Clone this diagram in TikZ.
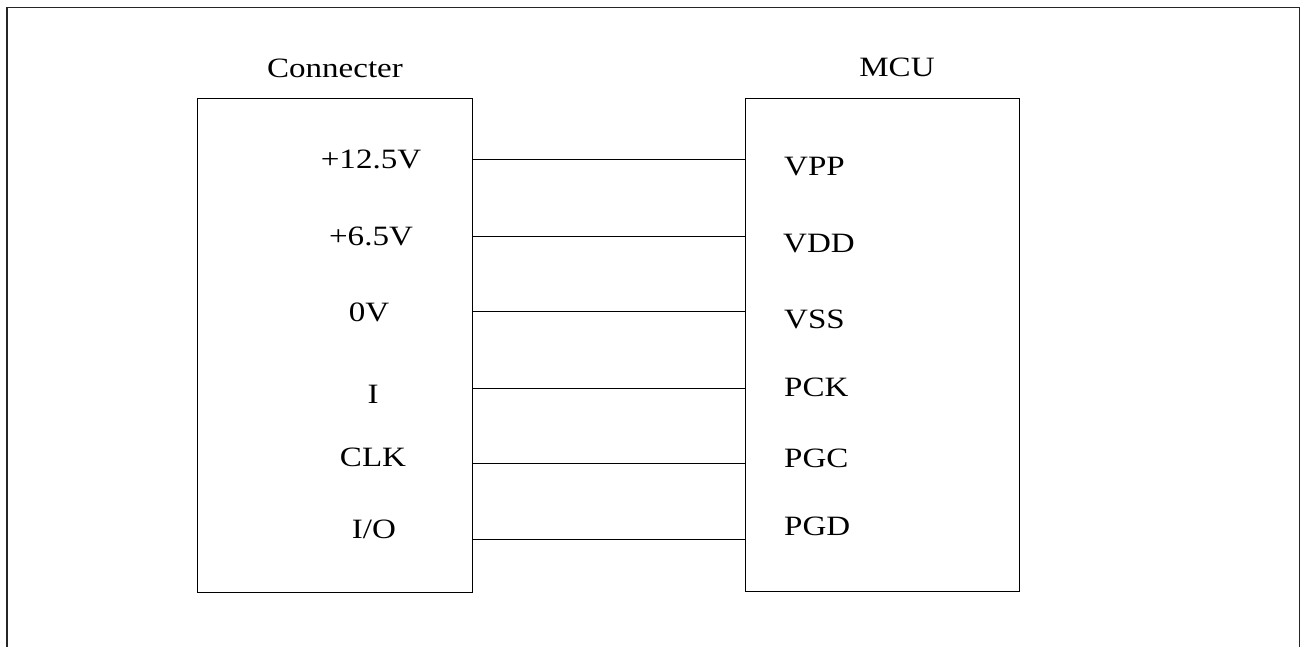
\documentclass[tikz,border=0pt]{standalone}
\usepackage{graphicx}
\usepackage{fontspec}
\setmainfont{Liberation Serif}
% labels are set slightly wide
\newcommand{\widetxt}[1]{\scalebox{1.18}[1]{#1}}
\begin{document}
\begin{tikzpicture}[x=1pt,y=-1pt,
  block/.style={draw, line width=1pt, inner sep=0pt, outer sep=0pt},
  wire/.style={line width=0.9pt},
  frameline/.style={line width=1.4pt, draw=black!85},
  lbl/.style={font=\fontsize{28}{30}\selectfont, inner sep=0pt},
  pinl/.style={lbl, anchor=base},
  pinr/.style={lbl, anchor=base west}]
\useasboundingbox (0,0) rectangle (1303,647);

% outer frame, open at the bottom
\draw[frameline] (7,647) -- (7,7.5) -- (1299.5,7.5) -- (1299.5,647);

% the two blocks
\node[block, minimum width=275pt, minimum height=493pt] (conn) at (334.5,345.5) {};
\node[block, minimum width=274pt, minimum height=492pt] (mcu) at (882,345) {};

\node[pinl] (tconn) at (335,78) {\widetxt{Connecter}};
\node[pinl] (tmcu) at (897,77) {\widetxt{MCU}};

% connector pins
\node[pinl] (c1) at (371,168.5) {\widetxt{+12.5V}};
\node[pinl] (c2) at (371,245) {\widetxt{+6.5V}};
\node[pinl] (c3) at (369,321) {\widetxt{0V}};
\node[pinl] (c4) at (373,403) {\widetxt{I}};
\node[pinl] (c5) at (373,466) {\widetxt{CLK}};
\node[pinl] (c6) at (374,538) {\widetxt{I/O}};

% MCU pins
\node[pinr] (m1) at (784,176) {\widetxt{VPP}};
\node[pinr] (m2) at (783,252) {\widetxt{VDD}};
\node[pinr] (m3) at (784,328) {\widetxt{VSS}};
\node[pinr] (m4) at (784,396) {\widetxt{PCK}};
\node[pinr] (m5) at (784,467) {\widetxt{PGC}};
\node[pinr] (m6) at (784,535) {\widetxt{PGD}};

% wires between the blocks
\foreach \i/\yy in {1/159,2/236,3/311.5,4/388,5/463,6/539}{
  \coordinate (a\i) at (conn.east |- 0,\yy);
  \coordinate (b\i) at (mcu.west |- 0,\yy);
  \draw[wire] (a\i) -- (b\i);
}
\end{tikzpicture}
\end{document}
